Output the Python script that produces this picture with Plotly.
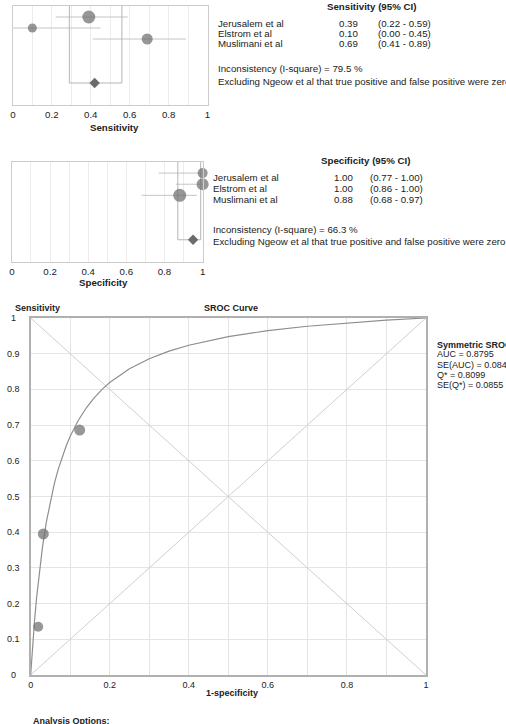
import plotly.graph_objects as go

# ---------------- data ----------------
studies = ["Jerusalem et al", "Elstrom et al", "Muslimani et al"]
sens = [0.39, 0.10, 0.69]
sens_lo = [0.22, 0.00, 0.41]
sens_hi = [0.59, 0.45, 0.89]
spec = [1.00, 1.00, 0.88]
spec_lo = [0.77, 0.86, 0.68]
spec_hi = [1.00, 1.00, 0.97]
pooled_sens = 0.42
pooled_sens_ci = [0.29, 0.56]
pooled_spec = 0.95
pooled_spec_ci = [0.87, 0.99]
i2_sens = 79.5
i2_spec = 66.3
note = "Excluding Ngeow et al that true positive and false positive were zero."

# SROC study points (1-specificity, sensitivity)
sroc_fpr = [0.032, 0.019, 0.124]
sroc_tpr = [0.395, 0.135, 0.686]
# SROC curve
curve_fpr = [0, 0.0025, 0.005, 0.0075, 0.01, 0.015, 0.02, 0.03, 0.04, 0.05, 0.06, 0.07,
             0.08, 0.09, 0.1, 0.12, 0.14, 0.16, 0.18, 0.2, 0.25, 0.3, 0.35, 0.4, 0.5,
             0.6, 0.7, 0.8, 0.9, 1.0]
curve_tpr = [0, 0.0435, 0.0836, 0.1206, 0.155, 0.2165, 0.270, 0.3595, 0.4306, 0.4885,
             0.5367, 0.5774, 0.6121, 0.6422, 0.6685, 0.7122, 0.7471, 0.7756, 0.7994,
             0.8194, 0.858, 0.886, 0.9072, 0.9237, 0.9478, 0.9646, 0.9769, 0.9864,
             0.9939, 1.0]
auc, se_auc, qstar, se_q = 0.8795, 0.084, 0.8099, 0.0855

tick_vals = [0, 0.2, 0.4, 0.6, 0.8, 1]
tick_text = ["0", "0.2", "0.4", "0.6", "0.8", "1"]
y_ticks = [0, 0.1, 0.2, 0.3, 0.4, 0.5, 0.6, 0.7, 0.8, 0.9, 1]
y_tick_text = ["0", "0.1", "0.2", "0.3", "0.4", "0.5", "0.6", "0.7", "0.8", "0.9", "1"]

# ---------------- style ----------------
W, H = 506, 724
FONT = "Liberation Sans, Arial, sans-serif"
MARK = "#6b6b6b"
CI_COL = "#c4c4c4"
GRID = "#ececec"
FRAME = "#cccccc"
TXT = "#222222"
rows = [1, 2, 3]
pooled_row = 7
sens_sizes = [13, 9, 11]
spec_sizes = [10, 12, 13]
sroc_sizes = [11, 10, 11]


def px(x):
    return x / W


def py(y):
    return 1 - y / H


fig = go.Figure()


def forest(xa, ya, est, lo, hi, sizes, pooled, pci):
    for r, a, b in zip(rows, lo, hi):
        fig.add_trace(go.Scatter(x=[a, b], y=[r, r], mode="lines",
                                 line=dict(color=CI_COL, width=1), xaxis=xa, yaxis=ya,
                                 hoverinfo="skip", cliponaxis=False))
    fig.add_trace(go.Scatter(x=[pci[0], pci[0], pci[1], pci[1]], y=[0, pooled_row, pooled_row, 0],
                             mode="lines", line=dict(color="#b5b5b5", width=1),
                             xaxis=xa, yaxis=ya, hoverinfo="skip", cliponaxis=False))
    fig.add_trace(go.Scatter(x=est, y=rows, mode="markers",
                             marker=dict(color=MARK, size=sizes, line=dict(width=0)),
                             xaxis=xa, yaxis=ya, cliponaxis=False))
    fig.add_trace(go.Scatter(x=[pooled], y=[pooled_row], mode="markers",
                             marker=dict(color=MARK, size=8, symbol="diamond", line=dict(width=0)),
                             xaxis=xa, yaxis=ya, cliponaxis=False))


forest("x", "y", sens, sens_lo, sens_hi, sens_sizes, pooled_sens, pooled_sens_ci)
forest("x2", "y2", spec, spec_lo, spec_hi, spec_sizes, pooled_spec, pooled_spec_ci)

# SROC
fig.add_trace(go.Scatter(x=[0, 1], y=[0, 1], mode="lines", line=dict(color="#cfcfcf", width=1),
                         xaxis="x3", yaxis="y3", hoverinfo="skip"))
fig.add_trace(go.Scatter(x=[0, 1], y=[1, 0], mode="lines", line=dict(color="#cfcfcf", width=1),
                         xaxis="x3", yaxis="y3", hoverinfo="skip"))
fig.add_trace(go.Scatter(x=curve_fpr, y=curve_tpr, mode="lines",
                         line=dict(color="#8e8e8e", width=1.2),
                         xaxis="x3", yaxis="y3", hoverinfo="skip"))
fig.add_trace(go.Scatter(x=sroc_fpr, y=sroc_tpr, mode="markers",
                         marker=dict(color=MARK, size=sroc_sizes, line=dict(width=0)),
                         xaxis="x3", yaxis="y3", cliponaxis=False))

forest_x = dict(range=[0, 1], tickvals=tick_vals, ticktext=tick_text, showgrid=True,
                gridcolor=GRID, minor=dict(dtick=0.1, tick0=0, showgrid=True, gridcolor=GRID),
                zeroline=False, showline=True, mirror=True, linecolor=FRAME, linewidth=1,
                ticks="", tickfont=dict(size=9.7, color=TXT, family=FONT))
forest_y = dict(range=[9, 0], showticklabels=False, showgrid=False, zeroline=False,
                showline=True, mirror=True, linecolor=FRAME, linewidth=1, ticks="")

annotations = []


def ann(text, x, y, size=9.7, bold=False, xanchor="left", xref="paper", yref="paper"):
    t = f"<b>{text}</b>" if bold else text
    annotations.append(dict(text=t, x=x, y=y, xref=xref, yref=yref, xanchor=xanchor,
                            yanchor="middle", showarrow=False,
                            font=dict(size=size, color=TXT, family=FONT)))


# Sensitivity text block
ann("Sensitivity (95% CI)", px(373), py(6), bold=True, xanchor="center")
for name, v, a, b, y in zip(studies, sens, sens_lo, sens_hi, [23, 33.5, 44]):
    ann(name, px(216), py(y))
    ann(f"{v:.2f}", px(338), py(y))
    ann(f"({a:.2f} - {b:.2f})", px(377), py(y))
ann(f"Inconsistency (I-square) = {i2_sens} %", px(216), py(68.5))
ann(note, px(216), py(82))
ann("Sensitivity", px(113), py(127), bold=True, xanchor="center")

# Specificity text block
ann("Specificity (95% CI)", px(367), py(160), bold=True, xanchor="center")
for name, v, a, b, y in zip(studies, spec, spec_lo, spec_hi, [177, 188, 199.5]):
    ann(name, px(211), py(y))
    ann(f"{v:.2f}", px(333), py(y))
    ann(f"({a:.2f} - {b:.2f})", px(369), py(y))
ann(f"Inconsistency (I-square) = {i2_spec} %", px(211), py(229.5))
ann(note, px(211), py(241))
ann("Specificity", px(102), py(283), bold=True, xanchor="center")

# SROC text
ann("Sensitivity", px(10), py(308), size=9, bold=True)
ann("SROC Curve", px(231), py(308), size=9, bold=True, xanchor="center")
ann("1-specificity", px(232), py(692.5), size=9, bold=True, xanchor="center")
ann("Symmetric SROC", px(437), py(344.5), size=9, bold=True)
ann(f"AUC = {auc:.4f}", px(437), py(354), size=9)
ann(f"SE(AUC) = {se_auc}", px(437), py(364.5), size=9)
ann(f"Q* = {qstar:.4f}", px(437), py(374.5), size=9)
ann(f"SE(Q*) = {se_q:.4f}", px(437), py(384.5), size=9)
for v, t in zip(y_ticks, y_tick_text):
    ann(t, px(11), v, size=9, xanchor="center", yref="y3")
ann("Analysis Options:", px(28), py(721), size=9, bold=True)

fig.update_layout(
    width=W, height=H, margin=dict(l=0, r=0, t=0, b=0),
    paper_bgcolor="white", plot_bgcolor="white", showlegend=False,
    font=dict(family=FONT, color=TXT),
    xaxis=dict(domain=[px(10), px(207)], anchor="y", **forest_x),
    yaxis=dict(domain=[py(105), py(6)], anchor="x", **forest_y),
    xaxis2=dict(domain=[px(9), px(202)], anchor="y2", **forest_x),
    yaxis2=dict(domain=[py(262), py(162)], anchor="x2", **forest_y),
    xaxis3=dict(domain=[px(28), px(428)], anchor="y3", range=[0, 1], tickvals=tick_vals,
                ticktext=tick_text, showgrid=True, gridcolor="#e4e4e4",
                minor=dict(dtick=0.1, tick0=0, showgrid=True, gridcolor="#e4e4e4"),
                zeroline=False, showline=True, mirror=True, linecolor="#b0b0b0", linewidth=1.5,
                ticks="", tickfont=dict(size=9, color=TXT, family=FONT)),
    yaxis3=dict(domain=[py(675), py(318)], anchor="x3", range=[0, 1], dtick=0.1, tick0=0,
                showgrid=True, gridcolor="#e4e4e4", zeroline=False, showline=True, mirror=True,
                linecolor="#b0b0b0", linewidth=1.5, showticklabels=False, ticks=""),
    annotations=annotations,
)

fig.write_html("out.html")
